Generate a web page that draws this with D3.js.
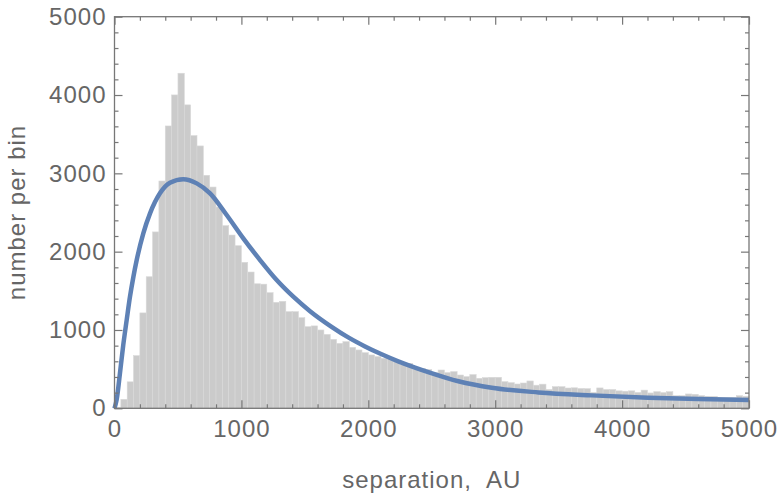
<!DOCTYPE html>
<html>
<head>
<meta charset="utf-8">
<script src="https://cdn.jsdelivr.net/npm/d3@7"></script>
<style>
  body { margin: 0; background: #fff; }
  svg text { font-family: "Liberation Sans", Arial, sans-serif; fill: #666; }
</style>
</head>
<body>
<script>
var width = 781,
    height = 502,
    margin = {top: 16.7, right: 32, bottom: 93.7, left: 114.5};

// histogram: bins of 50 AU from 0 to 5000
var binWidth = 50;
var binStart = d3.range(0, 5000, binWidth);
var counts = [
  10, 115, 338, 672, 1218, 1680, 2252, 2902, 3605, 4001,
  4278, 3874, 3482, 3350, 2975, 2825, 2570, 2332, 2212, 2076,
  1864, 1740, 1590, 1585, 1476, 1353, 1366, 1234, 1234, 1157,
  1042, 1052, 1000, 944, 880, 829, 851, 778, 745, 710,
  681, 660, 638, 651, 604, 560, 574, 500, 510, 495,
  455, 489, 455, 468, 425, 404, 430, 383, 391, 396,
  396, 340, 327, 310, 323, 349, 295, 308, 240, 276,
  276, 259, 262, 253, 251, 202, 260, 240, 240, 223,
  218, 223, 202, 232, 196, 212, 200, 212, 161, 161,
  183, 179, 161, 153, 153, 140, 140, 140, 161, 153
];

// fitted curve
var curveX = [0, 17, 43, 69, 96, 122, 149, 175, 227, 280, 358, 437, 542, 648, 753,
              884, 1015, 1147, 1278, 1409, 1541, 1711, 1842, 1974, 2105, 2236, 2368,
              2473, 2710, 2973, 3341, 3760, 4205, 4600, 5000];
var curveY = [0, 110, 447, 808, 1127, 1425, 1680, 1893, 2234, 2489, 2745, 2880, 2925, 2872, 2745,
              2468, 2170, 1893, 1638, 1425, 1240, 1040, 905, 790, 690, 600, 520,
              462, 345, 262, 203, 165, 135, 118, 106];

var xTicks = [0, 1000, 2000, 3000, 4000, 5000];
var yTicks = [0, 1000, 2000, 3000, 4000, 5000];

var svg = d3.select('body').append('svg')
    .attr('width', width)
    .attr('height', height);

var x = d3.scaleLinear().domain([0, 5000]).range([margin.left, width - margin.right]);
var y = d3.scaleLinear().domain([0, 5000]).range([height - margin.bottom, margin.top]);

// bars
svg.append('g').selectAll('rect')
    .data(binStart)
    .enter().append('rect')
    .attr('x', function(d){ return x(d); })
    .attr('width', function(d){ return x(d + binWidth) - x(d); })
    .attr('y', function(d, i){ return y(counts[i]); })
    .attr('height', function(d, i){ return y(0) - y(counts[i]); })
    .style('fill', '#cbcbcb')
    .style('stroke', '#d9d9d9')
    .style('stroke-width', 0.6);

// curve
var pts = curveX.map(function(d, i){ return [d, curveY[i]]; });
svg.append('path')
    .datum(pts)
    .attr('d', d3.line()
        .x(function(d){ return x(d[0]); })
        .y(function(d){ return y(d[1]); })
        .curve(d3.curveMonotoneX))
    .style('fill', 'none')
    .style('stroke', '#5e81b5')
    .style('stroke-width', 4.5);

// frame
var x0 = x(0), x1 = x(5000), y0 = y(0), y1 = y(5000);
svg.append('rect')
    .attr('x', x0).attr('y', y1)
    .attr('width', x1 - x0).attr('height', y0 - y1)
    .style('fill', 'none').style('stroke', '#777').style('stroke-width', 1.3);

var minorX = d3.range(0, 5001, 200).filter(function(d){ return d % 1000 !== 0; });
var minorY = d3.range(0, 5001, 200).filter(function(d){ return d % 1000 !== 0; });

function styleAxis(g) {
  g.select('.domain').remove();
  g.selectAll('line').style('stroke', '#777').style('stroke-width', 1.2);
  g.selectAll('text').style('font-size', '24px').style('fill', '#666')
    .style('letter-spacing', '1px').attr('font-family', null);
}

// bottom
svg.append('g').attr('transform', 'translate(0,' + y0 + ')')
    .call(d3.axisBottom(x).tickValues(xTicks).tickSize(-8).tickPadding(12).tickFormat(d3.format('d')))
    .call(styleAxis);
svg.append('g').attr('transform', 'translate(0,' + y0 + ')')
    .call(d3.axisBottom(x).tickValues(minorX).tickSize(-4).tickFormat(''))
    .call(styleAxis);
// top
svg.append('g').attr('transform', 'translate(0,' + y1 + ')')
    .call(d3.axisTop(x).tickValues(xTicks).tickSize(-8).tickFormat(''))
    .call(styleAxis);
svg.append('g').attr('transform', 'translate(0,' + y1 + ')')
    .call(d3.axisTop(x).tickValues(minorX).tickSize(-4).tickFormat(''))
    .call(styleAxis);
// left
svg.append('g').attr('transform', 'translate(' + x0 + ',0)')
    .call(d3.axisLeft(y).tickValues(yTicks).tickSize(-8).tickPadding(8).tickFormat(d3.format('d')))
    .call(styleAxis);
svg.append('g').attr('transform', 'translate(' + x0 + ',0)')
    .call(d3.axisLeft(y).tickValues(minorY).tickSize(-4).tickFormat(''))
    .call(styleAxis);
// right
svg.append('g').attr('transform', 'translate(' + x1 + ',0)')
    .call(d3.axisRight(y).tickValues(yTicks).tickSize(-8).tickFormat(''))
    .call(styleAxis);
svg.append('g').attr('transform', 'translate(' + x1 + ',0)')
    .call(d3.axisRight(y).tickValues(minorY).tickSize(-4).tickFormat(''))
    .call(styleAxis);

// axis labels
svg.append('text')
    .attr('x', (x0 + x1) / 2).attr('y', 488)
    .attr('text-anchor', 'middle')
    .style('font-size', '24px').style('letter-spacing', '1px')
    .style('white-space', 'pre')
    .text('separation,  AU');

svg.append('text')
    .attr('transform', 'translate(25,' + ((y0 + y1) / 2) + ') rotate(-90)')
    .attr('text-anchor', 'middle')
    .style('font-size', '24px').style('letter-spacing', '1px')
    .text('number per bin');
</script>
</body>
</html>
